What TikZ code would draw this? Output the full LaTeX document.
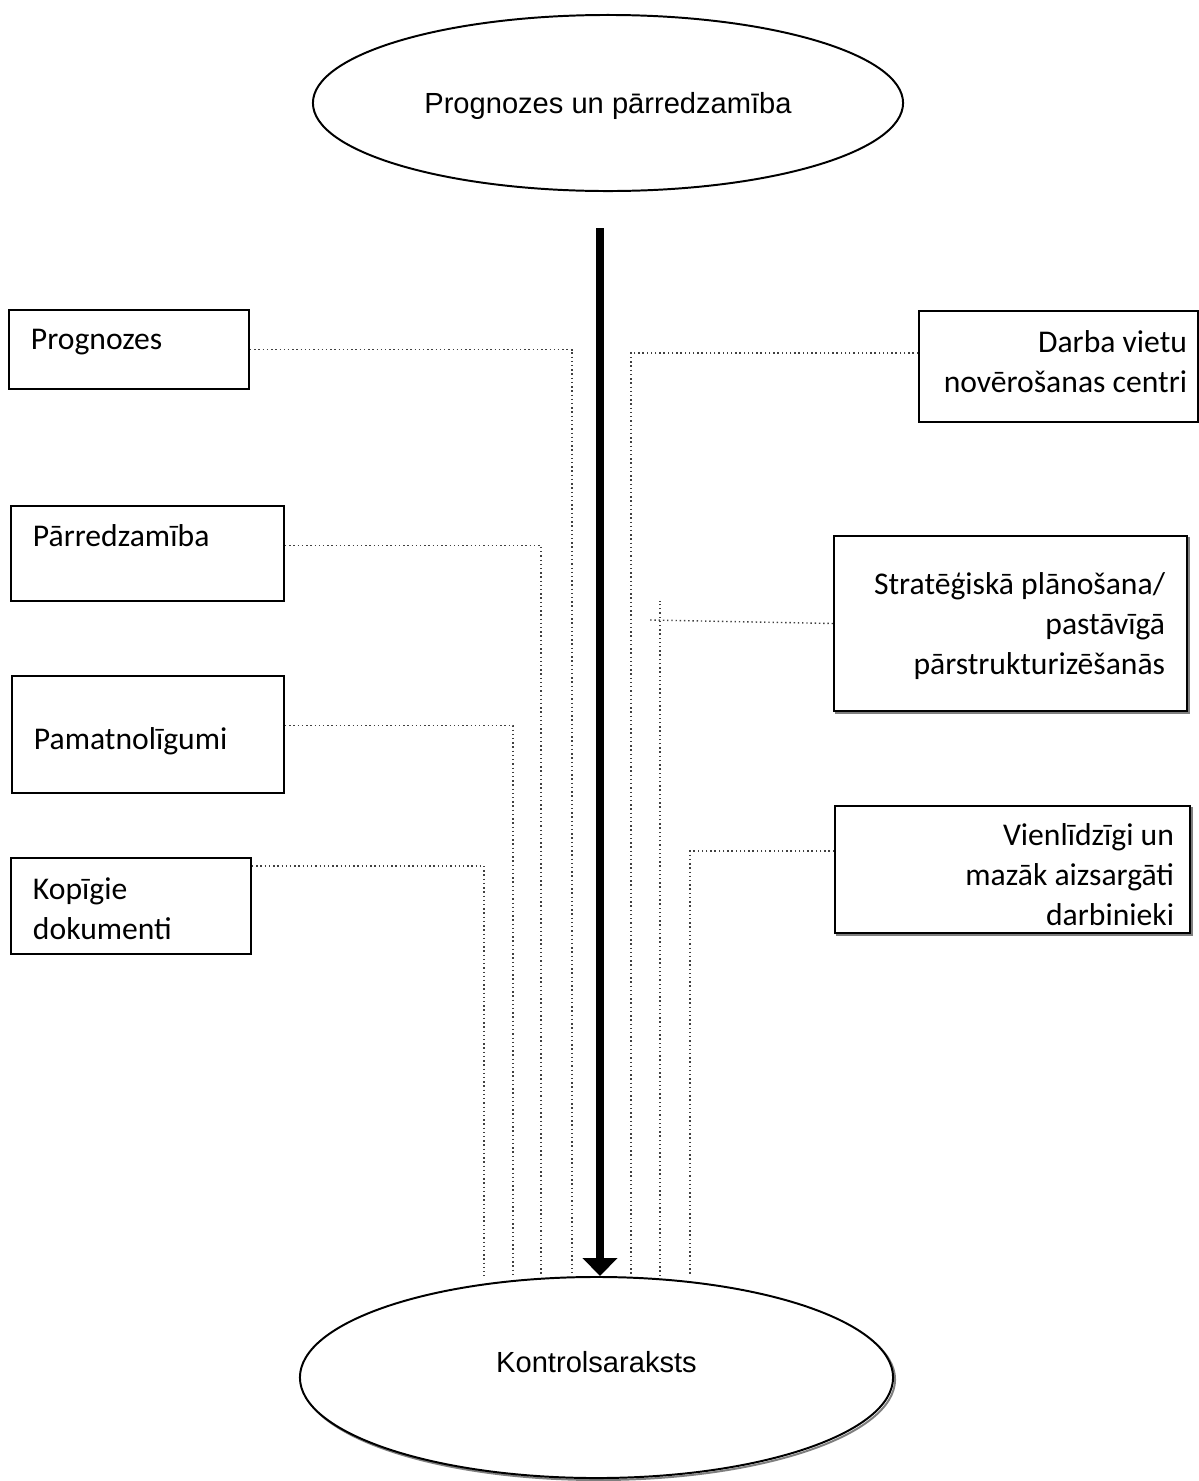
\documentclass[tikz,border=0pt]{standalone}
\usepackage{fontspec}
\usepackage{tikz}
\usetikzlibrary{arrows.meta,shapes.geometric,shadows}
\newfontfamily\boxfont{Carlito}
\newfontfamily\ovalfont{Liberation Sans}
\tikzstyle{box} = [rectangle, draw, fill=white, line width=1.4pt, inner ysep=0pt, font=\boxfont\fontsize{22.5pt}{28.45pt}\selectfont]
\tikzstyle{oval} = [ellipse, draw, fill=white, line width=1.4pt, inner sep=0pt, font=\ovalfont\fontsize{20.7pt}{25pt}\selectfont]
\tikzstyle{shade} = [copy shadow={shadow xshift=0.05cm, shadow yshift=-0.05cm, opacity=0.5}]
\tikzstyle{bigarrow} = [line width=5.7pt, -{Triangle[width=0.85cm, length=0.45cm]}]
\tikzstyle{link} = [dotted, line width=1pt, black!75]

\begin{document}
\begin{tikzpicture}[x=0.025cm, y=-0.025cm]
		\useasboundingbox (0,0) rectangle (1198,1481);
		
		% ovals
		\node (forecast) [oval, minimum width=14.75cm, minimum height=4.4cm, text height=0.525cm, text depth=0pt] at (608,103) {Prognozes un pārredzamība};
		\node (checklist) [oval, shade, minimum width=14.825cm, minimum height=5.025cm, text height=0pt, text depth=0.25cm] at (596.5,1377.5) {Kontrolsaraksts};
		
		% left boxes
		\node (prognozes) [box, minimum width=6cm, minimum height=1.975cm, inner xsep=0.55cm, text width=4.9cm, align=flush left, text height=0pt, text depth=0pt] at (129,349.5) {Prognozes};
		\node (parredz) [box, minimum width=6.825cm, minimum height=2.375cm, inner xsep=0.55cm, text width=5.725cm, align=flush left, text height=0pt, text depth=0.35cm] at (147.5,553.5) {Pārredzamība};
		\node (pamat) [box, minimum width=6.8cm, minimum height=2.925cm, inner xsep=0.55cm, text width=5.7cm, align=flush left, text height=0.725cm, text depth=0pt] at (148,734.5) {Pamatnolīgumi};
		\node (kopigie) [box, minimum width=6cm, minimum height=2.4cm, inner xsep=0.55cm, text width=4.9cm, align=flush left, text height=0pt, text depth=0.35cm] at (131,906) {Kopīgie\\dokumenti};
		
		% right boxes
		\node (darba) [box, minimum width=6.975cm, minimum height=2.775cm, inner xsep=0.275cm, text width=6.425cm, align=flush right, text height=0pt, text depth=0.725cm] at (1058.5,366.5) {Darba vietu\\novērošanas centri};
		\node (strat) [box, shade, minimum width=8.825cm, minimum height=4.375cm, inner xsep=0.55cm, text width=7.725cm, align=flush right, text height=0pt, text depth=1.475cm] at (1010.5,623.5) {Stratēģiskā plānošana/\\pastāvīgā\\pārstrukturizēšanās};
		\node (vienl) [box, shade, minimum width=8.875cm, minimum height=3.175cm, inner xsep=0.4cm, text width=8.075cm, align=flush right, text height=0pt, text depth=1.225cm] at (1012.5,869.5) {Vienlīdzīgi un\\mazāk aizsargāti\\darbinieki};
		
		% ends of the dotted lines
		\coordinate (arrowstart) at (600,228);
		\coordinate (dropA) at (572,1276);
		\coordinate (dropB) at (541,1276);
		\coordinate (dropC) at (513,1276);
		\coordinate (dropD) at (484,1276);
		\coordinate (dropE) at (631,1276);
		\coordinate (dropF) at (660,1276);
		\coordinate (dropG) at (690,1276);
		\coordinate (stratjoin) at (650,620);
		
		\draw [bigarrow] (arrowstart) -- (arrowstart |- checklist.north);
		
		\draw [link] (prognozes.east) -| (dropA);
		\draw [link] ([yshift=0.2cm]parredz.east) -| (dropB);
		\draw [link] ([yshift=0.225cm]pamat.east) -| (dropC);
		\draw [link] ([yshift=1cm]kopigie.east) -| (dropD);
		\draw [link] ([yshift=0.34cm]darba.west) -| (dropE);
		\draw [link] (strat.west) -- (stratjoin);
		\draw [link] (dropF) -- ([yshift=0.475cm]dropF |- stratjoin);
		\draw [link] ([yshift=0.4625cm]vienl.west) -| (dropG);
		
	\end{tikzpicture}
\end{document}
